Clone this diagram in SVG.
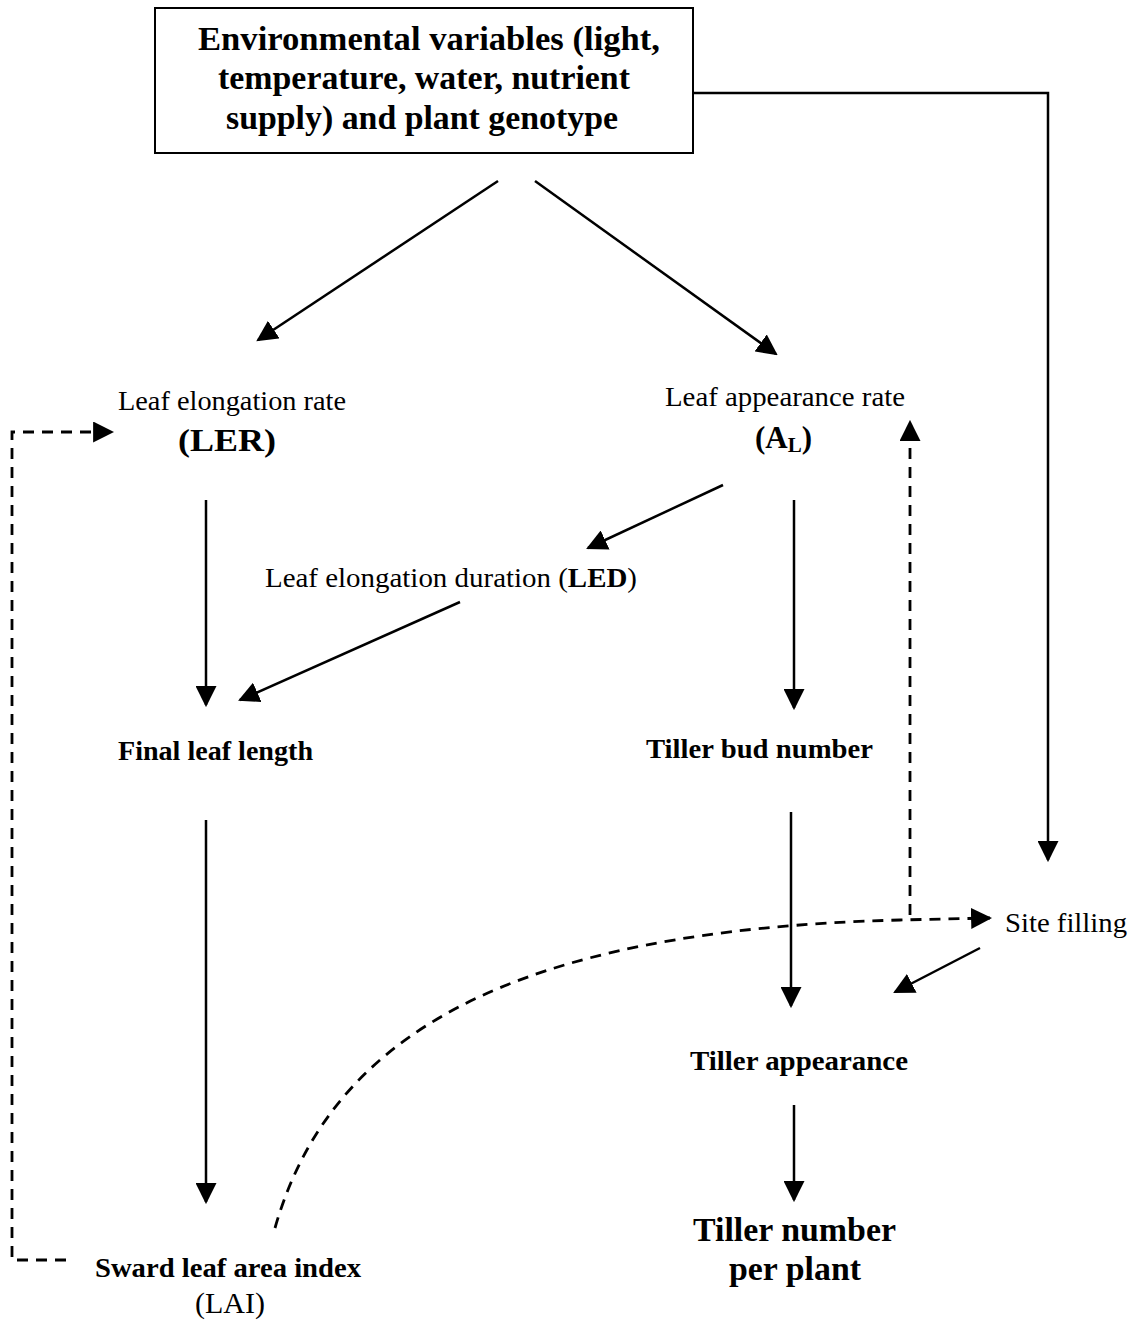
<svg xmlns="http://www.w3.org/2000/svg" width="1144" height="1324" viewBox="0 0 1144 1324">
<style>
text{font-family:"Liberation Serif","Times New Roman",serif;fill:#000}
.b{font-weight:bold}
.c{stroke:#000;stroke-width:2.5;fill:none}
.d{stroke:#000;stroke-width:2.8;fill:none;stroke-dasharray:11 8}
</style>
<defs>
<marker id="ah" viewBox="0 0 20 20" refX="18" refY="10" markerWidth="21" markerHeight="21" markerUnits="userSpaceOnUse" orient="auto">
<path d="M0,0 L20,10 L0,20 Z" fill="#000"/>
</marker>
</defs>
<rect width="1144" height="1324" fill="#fff"/>
<g id="connectors">
<path class="c" d="M693,93 H1048 V860" marker-end="url(#ah)"/>
<path class="c" d="M498,181 L258,340" marker-end="url(#ah)"/>
<path class="c" d="M535,181 L776,354" marker-end="url(#ah)"/>
<path class="d" d="M66,1260 H12 V432 H112" marker-end="url(#ah)"/>
<path class="c" d="M206,500 V705" marker-end="url(#ah)"/>
<path class="c" d="M723,485 L588,548" marker-end="url(#ah)"/>
<path class="c" d="M794,500 V708" marker-end="url(#ah)"/>
<path class="c" d="M460,602 L240,700" marker-end="url(#ah)"/>
<path class="c" d="M206,820 V1202" marker-end="url(#ah)"/>
<path class="c" d="M791,812 V1006" marker-end="url(#ah)"/>
<path class="d" d="M910,915 V422" marker-end="url(#ah)"/>
<path class="d" d="M275,1228 C330,1035 510,930 900,920 L990,918" marker-end="url(#ah)"/>
<path class="c" d="M980,948 L895,992" marker-end="url(#ah)"/>
<path class="c" d="M794,1105 V1200" marker-end="url(#ah)"/>
</g>
<g id="env">
<rect x="155" y="8" width="538" height="145" fill="#fff" stroke="#000" stroke-width="2"/>
<text class="b" x="198" y="50" font-size="33" textLength="462" lengthAdjust="spacingAndGlyphs">Environmental variables (light,</text>
<text class="b" x="218" y="89" font-size="33" textLength="412" lengthAdjust="spacingAndGlyphs">temperature, water, nutrient</text>
<text class="b" x="226" y="129" font-size="33" textLength="392" lengthAdjust="spacingAndGlyphs">supply) and plant genotype</text>
</g>
<g id="ler">
<text x="118" y="410" font-size="27" textLength="228" lengthAdjust="spacingAndGlyphs">Leaf elongation rate</text>
<text class="b" x="178" y="451" font-size="32" textLength="98" lengthAdjust="spacingAndGlyphs">(LER)</text>
</g>
<g id="al">
<text x="665" y="406" font-size="27" textLength="240" lengthAdjust="spacingAndGlyphs">Leaf appearance rate</text>
<text class="b" x="755" y="448" font-size="31">(A<tspan font-size="21" dy="4">L</tspan><tspan dy="-4">)</tspan></text>
</g>
<g id="led">
<text x="265" y="587" font-size="27" textLength="372" lengthAdjust="spacingAndGlyphs">Leaf elongation duration (<tspan class="b">LED</tspan>)</text>
</g>
<g id="fll">
<text class="b" x="118" y="760" font-size="27" textLength="195" lengthAdjust="spacingAndGlyphs">Final leaf length</text>
</g>
<g id="tbn">
<text class="b" x="646" y="758" font-size="27" textLength="227" lengthAdjust="spacingAndGlyphs">Tiller bud number</text>
</g>
<g id="site">
<text x="1005" y="932" font-size="27" textLength="122" lengthAdjust="spacingAndGlyphs">Site filling</text>
</g>
<g id="ta">
<text class="b" x="690" y="1070" font-size="27" textLength="218" lengthAdjust="spacingAndGlyphs">Tiller appearance</text>
</g>
<g id="tn">
<text class="b" x="693" y="1241" font-size="33" textLength="203" lengthAdjust="spacingAndGlyphs">Tiller number</text>
<text class="b" x="729" y="1280" font-size="33" textLength="132" lengthAdjust="spacingAndGlyphs">per plant</text>
</g>
<g id="lai">
<text class="b" x="95" y="1277" font-size="27" textLength="266" lengthAdjust="spacingAndGlyphs">Sward leaf area index</text>
<text x="195" y="1313" font-size="29" textLength="70" lengthAdjust="spacingAndGlyphs">(LAI)</text>
</g>
</svg>
